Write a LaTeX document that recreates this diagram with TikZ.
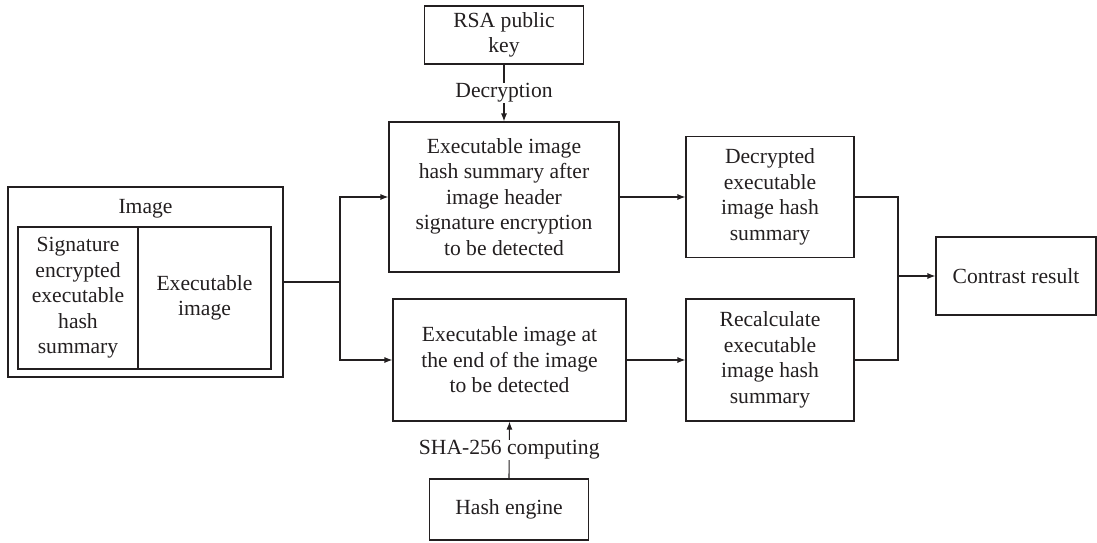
\documentclass[tikz,border=0pt]{standalone}
\usepackage{fontspec}
\setmainfont{Liberation Serif}
\usetikzlibrary{arrows.meta}
\definecolor{ink}{HTML}{231F20}
\begin{document}
\begin{tikzpicture}[x=1pt,y=-1pt,
  every node/.style={text=ink,font=\fontsize{21.6}{25.5}\selectfont},
  box/.style={draw=ink,line width=1.1pt,inner sep=0pt,align=center},
  conn/.style={draw=ink,line width=1.1pt},
  arr/.style={conn,-{Latex[length=8pt,width=6pt]}},
  lbl/.style={fill=white,inner sep=1pt}]
\useasboundingbox (0,0) rectangle (1097,542);
% image block
\node[box,minimum width=275pt,minimum height=190pt] (img) at (145.5,282) {};
\node (imgt) at (145.5,209) {Image};
\node[box,minimum width=120pt,minimum height=142pt] (sig) at (78,298) {Signature\\encrypted\\executable\\hash\\summary};
\node[box,minimum width=133pt,minimum height=142pt] (exe) at (204.5,298) {Executable\\image};
% middle column
\node[box,minimum width=230pt,minimum height=150pt] (top) at (504,197) {Executable image\\hash summary after\\image header\\signature encryption\\to be detected};
\node[box,minimum width=233pt,minimum height=122pt] (bot) at (509.5,360) {Executable image at\\the end of the image\\to be detected};
\node[box,minimum width=159pt,minimum height=58pt] (rsa) at (504,35) {RSA public\\key};
\node[box,minimum width=159pt,minimum height=61pt] (hash) at (509,509.5) {Hash engine};
% right column
\node[box,minimum width=168pt,minimum height=121pt] (dec) at (770,197) {Decrypted\\executable\\image hash\\summary};
\node[box,minimum width=168pt,minimum height=122pt] (rec) at (770,360) {Recalculate\\executable\\image hash\\summary};
\node[box,minimum width=160pt,minimum height=78pt] (res) at (1016,276) {Contrast result};
% connectors
\coordinate (split) at (340,282);
\coordinate (merge) at (898,276);
\draw[conn] (img.east) -- (split);
\draw[arr] (split) |- (top.west);
\draw[arr] (split) |- (bot.west);
\draw[arr] (top.east) -- (dec.west);
\draw[arr] (bot.east) -- (rec.west);
\draw[conn] (dec.east) -| (merge) |- (rec.east);
\draw[arr] (merge) -- (res.west);
\draw[arr] (rsa.south) -- node[lbl] (decl) {Decryption} (top.north);
\draw[arr] (hash.north) -- node[lbl] (shal) {SHA-256 computing} (bot.south);
\end{tikzpicture}
\end{document}
